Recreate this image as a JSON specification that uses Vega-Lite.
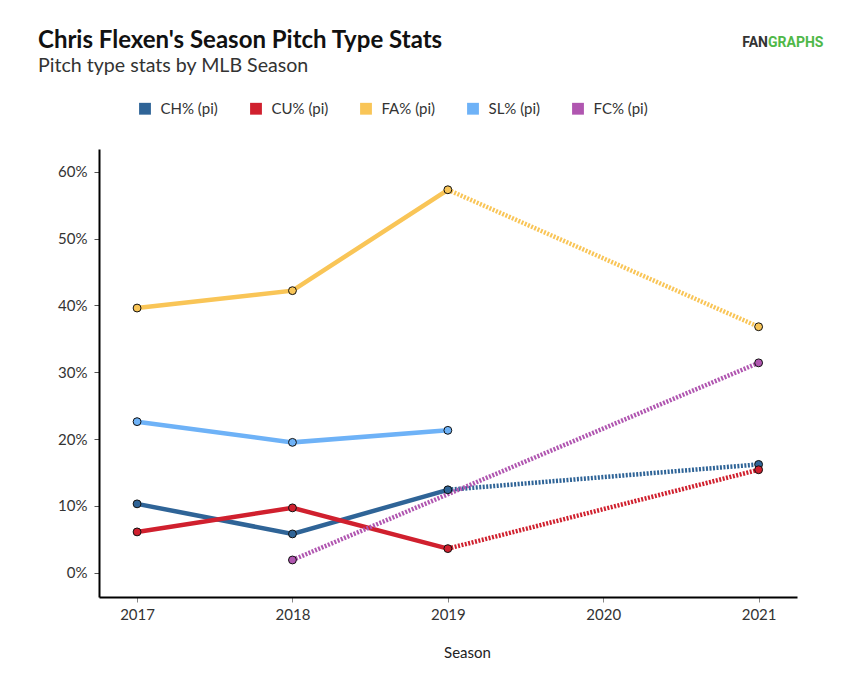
{
  "$schema": "https://vega.github.io/schema/vega-lite/v6.json",
  "autosize": {"type": "none"},
  "padding": {"left": 99, "top": 149, "right": 59, "bottom": 98},
  "width": 698,
  "height": 448,
  "background": "white",
  "title": {
    "text": "Chris Flexen's Season Pitch Type Stats",
    "subtitle": "Pitch type stats by MLB Season",
    "anchor": "start",
    "frame": "group",
    "dx": -61,
    "dy": 70,
    "offset": 30,
    "font": "Lato",
    "fontSize": 24,
    "fontWeight": "bold",
    "color": "#111111",
    "subtitleFont": "Lato",
    "subtitleFontSize": 19.6,
    "subtitleColor": "#333333",
    "subtitlePadding": 4
  },
  "datasets": {
    "points": [
      {"pitch": "CH% (pi)", "season": 2017, "value": 0.103},
      {"pitch": "CH% (pi)", "season": 2018, "value": 0.058},
      {"pitch": "CH% (pi)", "season": 2019, "value": 0.124},
      {"pitch": "CH% (pi)", "season": 2021, "value": 0.162},
      {"pitch": "CU% (pi)", "season": 2017, "value": 0.061},
      {"pitch": "CU% (pi)", "season": 2018, "value": 0.097},
      {"pitch": "CU% (pi)", "season": 2019, "value": 0.036},
      {"pitch": "CU% (pi)", "season": 2021, "value": 0.154},
      {"pitch": "FA% (pi)", "season": 2017, "value": 0.396},
      {"pitch": "FA% (pi)", "season": 2018, "value": 0.422},
      {"pitch": "FA% (pi)", "season": 2019, "value": 0.573},
      {"pitch": "FA% (pi)", "season": 2021, "value": 0.368},
      {"pitch": "SL% (pi)", "season": 2017, "value": 0.226},
      {"pitch": "SL% (pi)", "season": 2018, "value": 0.195},
      {"pitch": "SL% (pi)", "season": 2019, "value": 0.213},
      {"pitch": "FC% (pi)", "season": 2018, "value": 0.019},
      {"pitch": "FC% (pi)", "season": 2021, "value": 0.314}
    ],
    "segments": [
      {"pitch": "CH% (pi)", "seg": "CH-a", "style": "solid", "season": 2017, "value": 0.103},
      {"pitch": "CH% (pi)", "seg": "CH-a", "style": "solid", "season": 2018, "value": 0.058},
      {"pitch": "CH% (pi)", "seg": "CH-a", "style": "solid", "season": 2019, "value": 0.124},
      {"pitch": "CH% (pi)", "seg": "CH-b", "style": "dotted", "season": 2019, "value": 0.124},
      {"pitch": "CH% (pi)", "seg": "CH-b", "style": "dotted", "season": 2021, "value": 0.162},
      {"pitch": "CU% (pi)", "seg": "CU-a", "style": "solid", "season": 2017, "value": 0.061},
      {"pitch": "CU% (pi)", "seg": "CU-a", "style": "solid", "season": 2018, "value": 0.097},
      {"pitch": "CU% (pi)", "seg": "CU-a", "style": "solid", "season": 2019, "value": 0.036},
      {"pitch": "CU% (pi)", "seg": "CU-b", "style": "dotted", "season": 2019, "value": 0.036},
      {"pitch": "CU% (pi)", "seg": "CU-b", "style": "dotted", "season": 2021, "value": 0.154},
      {"pitch": "FA% (pi)", "seg": "FA-a", "style": "solid", "season": 2017, "value": 0.396},
      {"pitch": "FA% (pi)", "seg": "FA-a", "style": "solid", "season": 2018, "value": 0.422},
      {"pitch": "FA% (pi)", "seg": "FA-a", "style": "solid", "season": 2019, "value": 0.573},
      {"pitch": "FA% (pi)", "seg": "FA-b", "style": "dotted", "season": 2019, "value": 0.573},
      {"pitch": "FA% (pi)", "seg": "FA-b", "style": "dotted", "season": 2021, "value": 0.368},
      {"pitch": "SL% (pi)", "seg": "SL-a", "style": "solid", "season": 2017, "value": 0.226},
      {"pitch": "SL% (pi)", "seg": "SL-a", "style": "solid", "season": 2018, "value": 0.195},
      {"pitch": "SL% (pi)", "seg": "SL-a", "style": "solid", "season": 2019, "value": 0.213},
      {"pitch": "FC% (pi)", "seg": "FC-b", "style": "dotted", "season": 2018, "value": 0.019},
      {"pitch": "FC% (pi)", "seg": "FC-b", "style": "dotted", "season": 2021, "value": 0.314}
    ]
  },
  "encoding": {
    "x": {
      "field": "season",
      "type": "quantitative",
      "title": "Season",
      "scale": {"domain": [2016.755, 2021.247], "nice": false, "zero": false},
      "axis": {
        "values": [2017, 2018, 2019, 2020, 2021],
        "format": "d",
        "grid": false,
        "domainColor": "#000000",
        "domainWidth": 2,
        "tickColor": "#888888",
        "tickSize": 5,
        "labelFont": "Lato",
        "labelFontSize": 15,
        "labelColor": "#333333",
        "labelPadding": 5,
        "titleFont": "Lato",
        "titleFontSize": 15,
        "titleFontWeight": "normal",
        "titleColor": "#222222",
        "titleX": 368,
        "titleY": 55,
        "titleBaseline": "middle"
      }
    },
    "y": {
      "field": "value",
      "type": "quantitative",
      "title": null,
      "scale": {"domain": [-0.0364, 0.634], "nice": false, "zero": false},
      "axis": {
        "values": [0, 0.1, 0.2, 0.3, 0.4, 0.5, 0.6],
        "format": ".0%",
        "grid": false,
        "domainColor": "#000000",
        "domainWidth": 2,
        "tickColor": "#555555",
        "tickSize": 5,
        "labelFont": "Lato",
        "labelFontSize": 15,
        "labelColor": "#333333",
        "labelPadding": 7
      }
    },
    "color": {
      "field": "pitch",
      "type": "nominal",
      "scale": {
        "domain": ["CH% (pi)", "CU% (pi)", "FA% (pi)", "SL% (pi)", "FC% (pi)"],
        "range": ["#2f6497", "#d0202e", "#f9c557", "#6eb2f7", "#b056b0"]
      },
      "legend": {
        "title": null,
        "orient": "none",
        "legendX": 38.5,
        "legendY": -48,
        "direction": "horizontal",
        "symbolType": "square",
        "symbolSize": 140,
        "symbolStrokeWidth": 0,
        "symbolOpacity": 1,
        "labelFont": "Lato",
        "labelFontSize": 15,
        "labelColor": "#333333",
        "labelOffset": 8,
        "columnPadding": 30
      }
    }
  },
  "layer": [
    {
      "data": {"name": "segments"},
      "transform": [{"filter": "datum.style === 'solid'"}],
      "mark": {"type": "line", "strokeWidth": 4.5, "strokeCap": "butt"},
      "encoding": {"detail": {"field": "seg"}}
    },
    {
      "data": {"name": "segments"},
      "transform": [{"filter": "datum.style === 'dotted'"}],
      "mark": {"type": "line", "strokeWidth": 4.5, "strokeDash": [2, 1.5], "strokeCap": "butt"},
      "encoding": {"detail": {"field": "seg"}}
    },
    {
      "data": {"name": "points"},
      "mark": {"type": "point", "filled": true, "size": 62, "stroke": "#111111", "strokeWidth": 1, "opacity": 1},
      "encoding": {"fill": {"field": "pitch", "type": "nominal", "legend": null, "scale": {"domain": ["CH% (pi)", "CU% (pi)", "FA% (pi)", "SL% (pi)", "FC% (pi)"], "range": ["#2f6497", "#d0202e", "#f9c557", "#6eb2f7", "#b056b0"]}}}
    },
    {
      "data": {"values": [{"t": "FAN"}]},
      "mark": {"type": "text", "font": "Roboto", "fontSize": 14, "fontWeight": "bold", "color": "#333333", "align": "right", "baseline": "alphabetic", "x": 669, "y": -102},
      "encoding": {"text": {"field": "t"}, "x": null, "y": null, "color": null}
    },
    {
      "data": {"values": [{"t": "GRAPHS"}]},
      "mark": {"type": "text", "font": "Roboto", "fontSize": 14, "fontWeight": "bold", "color": "#4fb848", "align": "left", "baseline": "alphabetic", "x": 669, "y": -102},
      "encoding": {"text": {"field": "t"}, "x": null, "y": null, "color": null}
    }
  ],
  "config": {"view": {"stroke": null}, "font": "Lato"}
}
